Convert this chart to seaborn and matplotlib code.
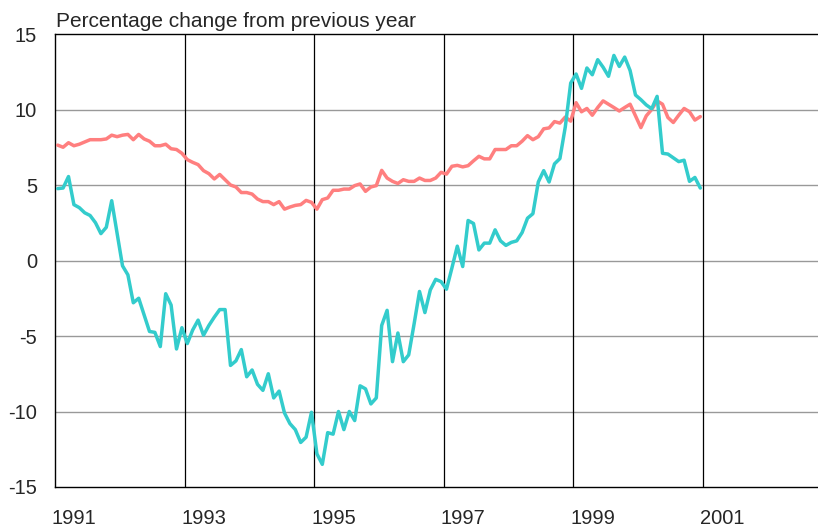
import numpy as np
import pandas as pd
import matplotlib
matplotlib.use('Agg')
import matplotlib.pyplot as plt
import matplotlib.transforms as mtransforms
import seaborn as sns

# monthly data, Jan 1991 - Dec 2000 (percent change from previous year)
months = pd.date_range('1991-01-01', '2000-12-01', freq='MS')

red_series = [
    7.64, 7.5, 7.8, 7.6, 7.7, 7.85, 8.0, 8.0, 8.0, 8.05, 8.3, 8.2,
    8.3, 8.35, 8.0, 8.35, 8.05, 7.9, 7.6, 7.6, 7.7, 7.4, 7.35, 7.1,
    6.68, 6.5, 6.35, 5.95, 5.75, 5.4, 5.7, 5.35, 5.0, 4.87, 4.5, 4.5,
    4.4, 4.07, 3.9, 3.9, 3.7, 3.9, 3.4, 3.54, 3.65, 3.7, 3.98, 3.85,
    3.4, 4.03, 4.14, 4.65, 4.65, 4.73, 4.73, 4.96, 5.07, 4.58, 4.87, 4.96,
    5.97, 5.46, 5.24, 5.1, 5.35, 5.24, 5.24, 5.46, 5.3, 5.3, 5.46, 5.84,
    5.72, 6.24, 6.3, 6.2, 6.28, 6.6, 6.9, 6.73, 6.73, 7.35, 7.35, 7.35,
    7.6, 7.6, 7.9, 8.27, 8.0, 8.2, 8.72, 8.78, 9.2, 9.1, 9.5, 9.23,
    10.45, 9.85, 10.07, 9.62, 10.13, 10.57, 10.35, 10.13, 9.9, 10.13, 10.35, 9.58,
    8.8, 9.58, 10.0, 10.57, 10.35, 9.47, 9.14, 9.62, 10.07, 9.85, 9.3, 9.53,
]

teal_series = [
    4.76, 4.8, 5.56, 3.7, 3.5, 3.16, 2.98, 2.5, 1.78, 2.2, 3.96, 1.8,
    -0.35, -0.95, -2.8, -2.5, -3.6, -4.7, -4.76, -5.7, -2.2, -2.95, -5.86, -4.45,
    -5.5, -4.6, -3.95, -4.95, -4.3, -3.75, -3.25, -3.25, -6.95, -6.65, -5.9, -7.7,
    -7.25, -8.2, -8.6, -7.5, -9.1, -8.65, -10.1, -10.8, -11.2, -12.05, -11.7, -10.05,
    -12.8, -13.5, -11.4, -11.5, -10.0, -11.2, -10.0, -10.6, -8.3, -8.5, -9.5, -9.1,
    -4.3, -3.3, -6.7, -4.8, -6.7, -6.25, -4.2, -2.05, -3.45, -1.95, -1.25, -1.4,
    -1.9, -0.5, 0.95, -0.4, 2.65, 2.45, 0.7, 1.15, 1.15, 2.03, 1.3, 1.0,
    1.2, 1.3, 1.85, 2.8, 3.1, 5.2, 5.95, 5.2, 6.4, 6.75, 8.85, 11.75,
    12.35, 11.4, 12.75, 12.3, 13.3, 12.8, 12.2, 13.58, 12.85, 13.47, 12.58, 10.96,
    10.65, 10.3, 10.05, 10.87, 7.1, 7.05, 6.8, 6.55, 6.64, 5.24, 5.5, 4.8,
]

year_labels = ['1991', '1993', '1995', '1997', '1999', '2001']
title = 'Percentage change from previous year'

sns.set_style('white')
plt.rcParams['font.family'] = ['Liberation Sans', 'DejaVu Sans']
plt.rcParams['axes.unicode_minus'] = False

# mid-month positions in decimal years
xpos = np.asarray(months.year + (months.month - 0.5) / 12, dtype=float)
df = pd.DataFrame({
    'x': np.concatenate([xpos, xpos]),
    'value': red_series + teal_series,
    'series': ['red'] * len(red_series) + ['teal'] * len(teal_series),
})

fig = plt.figure(figsize=(8.18, 5.29), dpi=100)
ax = fig.add_axes([55 / 818, 1 - 487 / 529, 1 - 55 / 818, (487 - 34) / 529])

sns.lineplot(data=df, x='x', y='value', hue='series', hue_order=['red', 'teal'],
             palette=['#FF7F7F', '#33CCCC'], linewidth=2.5, estimator=None,
             legend=False, ax=ax, zorder=3)

ax.set_xlim(1991, 1991 + 763 / 64.8)
ax.set_ylim(-15, 15)

for v in [-10, -5, 0, 5, 10]:
    ax.axhline(v, color='#999999', linewidth=1.0, zorder=1)
for yr in [1993, 1995, 1997, 1999, 2001]:
    ax.axvline(yr, color='black', linewidth=0.9, zorder=1)

ax.set_yticks(range(-15, 16, 5))
ax.set_yticks(range(-15, 16), minor=True)
ax.tick_params(axis='y', which='both', direction='in', length=4.5, width=0.8,
               color='#333333', labelsize=14.5, pad=13)

ax.set_xticks([int(y) for y in year_labels])
ax.set_xticklabels(year_labels, ha='left')
ax.set_xticks([1992, 1994, 1996, 1998, 2000, 2002], minor=True)
ax.tick_params(axis='x', which='major', length=0, labelsize=14.5, pad=16)
ax.tick_params(axis='x', which='minor', direction='in', length=4.5, width=0.8,
               color='#333333')
shift = mtransforms.ScaledTranslation(-3 / 100, 0, fig.dpi_scale_trans)
for lbl in ax.get_xticklabels():
    lbl.set_transform(lbl.get_transform() + shift)

ax.set_xlabel('')
ax.set_ylabel('')
for side in ['left', 'bottom', 'top']:
    ax.spines[side].set_color('black')
    ax.spines[side].set_linewidth(1.0)
ax.spines['right'].set_visible(False)

fig.text(56 / 818, 1 - 27 / 529, title, fontsize=15, ha='left', va='baseline')

fig.savefig('out.png', dpi=100)
